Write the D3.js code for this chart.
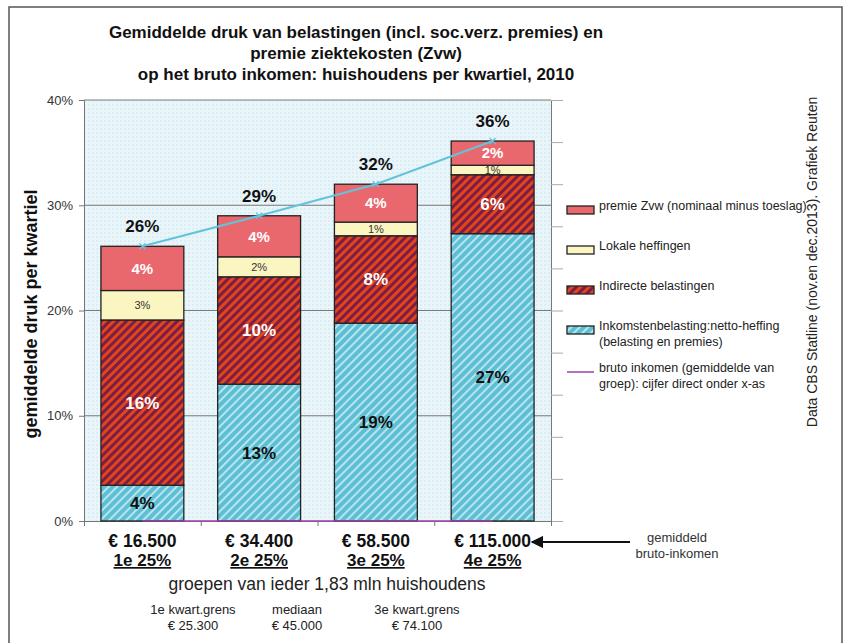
<!DOCTYPE html>
<html>
<head>
<meta charset="utf-8">
<script src="https://cdn.jsdelivr.net/npm/d3@7"></script>
<style>
  body { margin: 0; background: #fff; }
  text { font-family: Arial, "Liberation Sans", sans-serif; }
</style>
</head>
<body>
<svg id="chart" width="846" height="643"></svg>
<script>
// data
const incomes = ["€ 16.500", "€ 34.400", "€ 58.500", "€ 115.000"];
const groups = ["1e 25%", "2e 25%", "3e 25%", "4e 25%"];
const inkomstenbelasting = [3.4, 13.0, 18.8, 27.3];
const indirect = [15.7, 10.2, 8.3, 5.6];
const lokaal = [2.8, 1.9, 1.3, 0.9];
const zvw = [4.2, 3.9, 3.6, 2.3];
const inkLabels = ["4%", "13%", "19%", "27%"];
const indLabels = ["16%", "10%", "8%", "6%"];
const lokLabels = ["3%", "2%", "1%", "1%"];
const zvwLabels = ["4%", "4%", "4%", "2%"];
const totalLabels = ["26%", "29%", "32%", "36%"];
const yTicks = [0, 10, 20, 30, 40];

const svg = d3.select("#chart");
const defs = svg.append("defs");

// patterns
function stripes(id, bg, fg, w) {
  const p = defs.append("pattern").attr("id", id)
    .attr("patternUnits", "userSpaceOnUse").attr("width", 6).attr("height", 6)
    .attr("patternTransform", "rotate(45)");
  p.append("rect").attr("width", 6).attr("height", 6).attr("fill", bg);
  p.append("rect").attr("width", w).attr("height", 6).attr("fill", fg);
}
stripes("indPat", "#7a1e45", "#e2451c", 3);
stripes("inkPat", "#5cbfd4", "#b9e4ee", 2);
const dots = defs.append("pattern").attr("id", "bgPat")
  .attr("patternUnits", "userSpaceOnUse").attr("width", 4).attr("height", 4);
dots.append("rect").attr("width", 4).attr("height", 4).attr("fill", "#e9f5f9");
dots.append("rect").attr("width", 2).attr("height", 2).attr("fill", "#d9eef5");

// frame
svg.append("path").attr("d", "M9,643V7H842V643")
  .attr("fill", "none").attr("stroke", "#555").attr("stroke-width", 1.5);

const x0 = 84, x1 = 551;
const x = d3.scaleBand().domain(groups).range([x0, x1]).paddingInner(0.29).paddingOuter(0.145);
const y = d3.scaleLinear().domain([0, 40]).range([521, 100]);

// plot background
svg.append("rect").attr("x", x0).attr("y", y(40)).attr("width", x1 - x0).attr("height", y(0) - y(40))
  .attr("fill", "url(#bgPat)");

// grid
svg.append("g").selectAll("line").data(yTicks.slice(1)).join("line")
  .attr("x1", x0).attr("x2", x1).attr("y1", d => y(d)).attr("y2", d => y(d))
  .attr("stroke", "#7a7a7a").attr("stroke-width", 1);

// y axis
const yAxis = svg.append("g").attr("transform", `translate(${x0},0)`)
  .call(d3.axisLeft(y).tickValues(yTicks).tickFormat(d => d + "%").tickSize(5));
yAxis.select(".domain").attr("stroke", "#777");
yAxis.selectAll(".tick line").attr("stroke", "#777");
yAxis.selectAll("text").attr("font-size", 13).attr("fill", "#333").attr("dx", -3);

// right axis with minor ticks
const yR = svg.append("g").attr("transform", `translate(${x1},0)`)
  .call(d3.axisRight(y).tickValues(d3.range(0, 41, 4)).tickFormat("").tickSize(12));
yR.select(".domain").attr("stroke", "#777");
yR.selectAll(".tick line").attr("stroke", "#aaa");

// x axis
const xAxis = svg.append("g").attr("transform", `translate(0,${y(0)})`)
  .call(d3.axisBottom(d3.scaleLinear().domain([0, 4]).range([x0, x1])).ticks(4).tickFormat("").tickSize(5));
xAxis.select(".domain").attr("stroke", "#777");
xAxis.selectAll(".tick line").attr("stroke", "#777");

// stacked bars
const rows = groups.map((g, i) => ({ g, ink: inkomstenbelasting[i], ind: indirect[i], lok: lokaal[i], zvw: zvw[i] }));
const keys = ["ink", "ind", "lok", "zvw"];
const fills = { ink: "url(#inkPat)", ind: "url(#indPat)", lok: "#fbf5c2", zvw: "#e9686e" };
const stack = d3.stack().keys(keys)(rows);
svg.append("g").selectAll("g").data(stack).join("g")
  .attr("fill", d => fills[d.key])
  .selectAll("rect").data(d => d).join("rect")
  .attr("x", d => x(d.data.g)).attr("width", x.bandwidth())
  .attr("y", d => y(d[1])).attr("height", d => y(d[0]) - y(d[1]))
  .attr("stroke", "#222").attr("stroke-width", 1.3);

// segment labels
const labelSets = { ink: inkLabels, ind: indLabels, lok: lokLabels, zvw: zvwLabels };
const labelStyle = {
  ink: { size: 17, fill: "#111", weight: "bold" },
  ind: { size: 17, fill: "#fff", weight: "bold" },
  lok: { size: 11, fill: "#333", weight: "normal" },
  zvw: { size: 15, fill: "#fff", weight: "bold" }
};
stack.forEach(layer => {
  const st = labelStyle[layer.key];
  svg.append("g").selectAll("text").data(layer).join("text")
    .attr("x", d => x(d.data.g) + x.bandwidth() / 2)
    .attr("y", d => y((d[0] + d[1]) / 2))
    .attr("dy", "0.35em").attr("text-anchor", "middle")
    .attr("font-size", st.size).attr("font-weight", st.weight).attr("fill", st.fill)
    .text((d, i) => labelSets[layer.key][i]);
});

// totals line
const totals = rows.map(r => r.ink + r.ind + r.lok + r.zvw);
const cx = g => x(g) + x.bandwidth() / 2;
svg.append("path").datum(totals)
  .attr("d", d3.line().x((d, i) => cx(groups[i])).y(d => y(d)))
  .attr("fill", "none").attr("stroke", "#63c3dc").attr("stroke-width", 2);
svg.append("g").selectAll("path").data(totals).join("path")
  .attr("d", (d, i) => { const px = cx(groups[i]), py = y(d); return `M${px-3},${py-3}L${px+3},${py+3}M${px-3},${py+3}L${px+3},${py-3}`; })
  .attr("stroke", "#63c3dc").attr("stroke-width", 1.2);
svg.append("g").selectAll("text").data(totals).join("text")
  .attr("x", (d, i) => cx(groups[i])).attr("y", d => y(d) - 14)
  .attr("text-anchor", "middle").attr("font-size", 17).attr("font-weight", "bold").attr("fill", "#111")
  .text((d, i) => totalLabels[i]);

// bruto inkomen series (drawn at 0, purple)
svg.append("path").datum(groups)
  .attr("d", d3.line().x(g => cx(g)).y(() => y(0)))
  .attr("stroke", "#a040a8").attr("stroke-width", 1.5);

// x labels
const xl = svg.append("g").selectAll("g").data(groups).join("g")
  .attr("transform", g => `translate(${cx(g)},0)`);
xl.append("text").attr("y", 547).attr("text-anchor", "middle")
  .attr("font-size", 17.5).attr("font-weight", "bold").attr("fill", "#111")
  .text((g, i) => incomes[i]);
xl.append("text").attr("y", 566).attr("text-anchor", "middle")
  .attr("font-size", 17).attr("font-weight", "bold").attr("fill", "#111")
  .attr("text-decoration", "underline").text(g => g);

// arrow
defs.append("marker").attr("id", "arrow").attr("viewBox", "0 0 10 10").attr("refX", 9).attr("refY", 5)
  .attr("markerWidth", 7).attr("markerHeight", 7).attr("orient", "auto")
  .append("path").attr("d", "M0,0L10,5L0,10Z").attr("fill", "#111");
svg.append("line").attr("x1", 630).attr("y1", 542).attr("x2", 532).attr("y2", 542)
  .attr("stroke", "#111").attr("stroke-width", 1.8).attr("marker-end", "url(#arrow)");
svg.append("text").attr("x", 677).attr("y", 542).attr("text-anchor", "middle").attr("font-size", 13).attr("fill", "#333")
  .selectAll("tspan").data(["gemiddeld", "bruto-inkomen"]).join("tspan")
  .attr("x", 677).attr("dy", (d, i) => i ? 16 : 0).text(d => d);

svg.append("text").attr("x", 327).attr("y", 590).attr("text-anchor", "middle")
  .attr("font-size", 17.5).attr("fill", "#222").text("groepen van ieder 1,83 mln huishoudens");

const notes = [["1e kwart.grens", "€ 25.300", 193], ["mediaan", "€ 45.000", 297], ["3e kwart.grens", "€ 74.100", 417]];
notes.forEach(n => {
  svg.append("text").attr("x", n[2]).attr("y", 614).attr("text-anchor", "middle")
    .attr("font-size", 13).attr("fill", "#222")
    .selectAll("tspan").data([n[0], n[1]]).join("tspan")
    .attr("x", n[2]).attr("dy", (d, i) => i ? 16 : 0).text(d => d);
});

// title
svg.append("text").attr("x", 356).attr("y", 38).attr("text-anchor", "middle")
  .attr("font-size", 17).attr("font-weight", "bold").attr("fill", "#111")
  .selectAll("tspan").data([
    "Gemiddelde druk van belastingen (incl. soc.verz. premies) en",
    "premie ziektekosten (Zvw)",
    "op het bruto inkomen: huishoudens per kwartiel, 2010"])
  .join("tspan").attr("x", 356).attr("dy", (d, i) => i ? 21 : 0).text(d => d);

// y label
svg.append("text").attr("transform", "translate(37,314) rotate(-90)").attr("text-anchor", "middle")
  .attr("font-size", 18).attr("font-weight", "bold").attr("fill", "#111")
  .text("gemiddelde druk per kwartiel");

// source
svg.append("text").attr("transform", "translate(817,262) rotate(-90)").attr("text-anchor", "middle")
  .attr("font-size", 14).attr("fill", "#222")
  .text("Data CBS Statline  (nov.en dec.2013). Grafiek Reuten");

// legend
const legendItems = [
  { lines: ["premie Zvw (nominaal minus toeslag)"], fill: fills.zvw, y: 210 },
  { lines: ["Lokale heffingen"], fill: fills.lok, y: 250 },
  { lines: ["Indirecte belastingen"], fill: fills.ind, y: 290 },
  { lines: ["Inkomstenbelasting:netto-heffing", "(belasting en premies)"], fill: fills.ink, y: 330 },
  { lines: ["bruto inkomen (gemiddelde van", "groep): cijfer direct onder x-as"], line: true, y: 372 }
];
const lg = svg.append("g").selectAll("g").data(legendItems).join("g")
  .attr("transform", d => `translate(567,${d.y})`);
lg.filter(d => !d.line).append("rect").attr("x", 0).attr("y", -4).attr("width", 27).attr("height", 8)
  .attr("fill", d => d.fill).attr("stroke", "#222").attr("stroke-width", 1.3);
lg.filter(d => d.line).append("line").attr("x1", 0).attr("x2", 27)
  .attr("stroke", "#a040a8").attr("stroke-width", 1.5);
lg.append("text").attr("x", 32).attr("y", 0).attr("dy", "0.35em").attr("font-size", 12.5).attr("fill", "#222")
  .selectAll("tspan").data(d => d.lines).join("tspan")
  .attr("x", 32).attr("dy", (d, i) => i ? 16 : 0).text(d => d);
</script>
</body>
</html>
